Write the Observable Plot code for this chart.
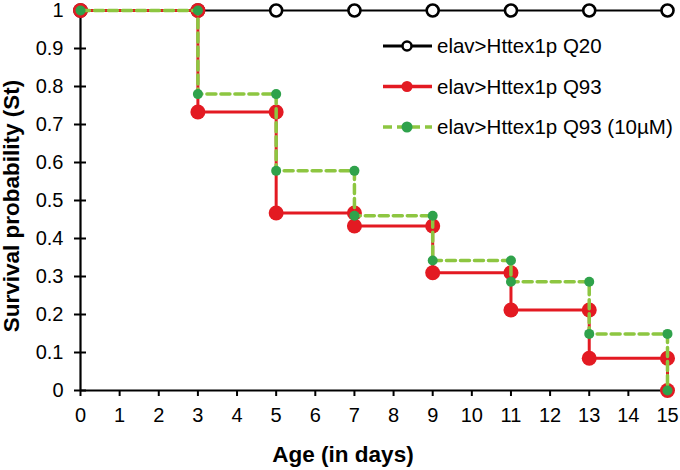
<!DOCTYPE html>
<html><head><meta charset="utf-8">
<script src="https://cdn.jsdelivr.net/npm/d3@7"></script>
<script src="https://cdn.jsdelivr.net/npm/@observablehq/plot@0.6"></script>
<style>
body{margin:0;background:#fff;}
#wrap{position:relative;width:680px;height:470px;font-family:"Liberation Sans",Arial,sans-serif;}
#wrap svg{position:absolute;left:0;top:0;}
</style></head><body><div id="wrap"></div>
<script>
// ---- data ----
const days = [0, 3, 5, 7, 9, 11, 13, 15];
const survQ20 = [1, 1, 1, 1, 1, 1, 1, 1];
const survQ93 = [1, 0.733, 0.467, 0.433, 0.31, 0.212, 0.085, 0];
const survQ93drug = [1, 0.78, 0.578, 0.46, 0.342, 0.286, 0.149, 0];
const seriesNames = ["elav>Httex1p Q20", "elav>Httex1p Q93", "elav>Httex1p Q93 (10µM)"];
const xTicks = [0, 1, 2, 3, 4, 5, 6, 7, 8, 9, 10, 11, 12, 13, 14, 15];
const yTicks = [0, 0.1, 0.2, 0.3, 0.4, 0.5, 0.6, 0.7, 0.8, 0.9, 1];
const yTickLabels = ["0", "0.1", "0.2", "0.3", "0.4", "0.5", "0.6", "0.7", "0.8", "0.9", "1"];
const xTitle = "Age (in days)";
const yTitle = "Survival probability (St)";

const colBlack = "#000000", colRed = "#E31A22", colLine = "#8DC641", colGreen = "#2FA24B";

function curvePts(s) { return days.map((d, i) => ({x: d, y: s[i]})); }
function stepDots(s) {
  const out = [];
  days.forEach((d, i) => {
    if (i > 0) out.push({x: d, y: s[i - 1]});
    out.push({x: d, y: s[i]});
  });
  return out;
}

const q20 = curvePts(survQ20), q93 = curvePts(survQ93), q93d = curvePts(survQ93drug);
const font = "'Liberation Sans', Arial, sans-serif";
const tickFont = 20;

const plot = Plot.plot({
  width: 680, height: 470,
  marginLeft: 80, marginRight: 13, marginTop: 10, marginBottom: 80,
  style: {fontFamily: font, fontSize: tickFont + "px", color: "#000", background: "transparent"},
  x: {domain: [0, 15]},
  y: {domain: [0, 1]},
  marks: [
    Plot.axisY(yTicks, {tickSize: 12, dx: 6, tickFormat: () => "", strokeWidth: 2, label: null}),
    Plot.axisY(yTicks, {tickSize: 0, tickPadding: 17, tickFormat: d => yTickLabels[yTicks.indexOf(d)], label: null, fontSize: tickFont}),
    Plot.axisX(xTicks, {tickSize: 6, tickPadding: 11, strokeWidth: 2, label: null, fontSize: tickFont}),
    Plot.ruleY([0], {strokeWidth: 2.2}),
    Plot.ruleX([0], {strokeWidth: 2.2}),
    Plot.line(q20, {x: "x", y: "y", curve: "step-after", stroke: colBlack, strokeWidth: 2}),
    Plot.dot(q20, {x: "x", y: "y", r: 6, stroke: colBlack, fill: "#fff", strokeWidth: 2.6}),
    Plot.line(q93, {x: "x", y: "y", curve: "step-after", stroke: colRed, strokeWidth: 3}),
    Plot.dot(stepDots(survQ93), {x: "x", y: "y", r: 7.5, fill: colRed}),
    Plot.line(q93d, {x: "x", y: "y", curve: "step-after", stroke: colLine, strokeWidth: 3.5, strokeDasharray: "9,5"}),
    Plot.dot(stepDots(survQ93drug), {x: "x", y: "y", r: 5, fill: colGreen})
  ]
});
document.getElementById("wrap").appendChild(plot);

// ---- overlay: legend and axis titles ----
const ov = d3.select("#wrap").append("svg")
  .attr("width", 680).attr("height", 470)
  .style("pointer-events", "none")
  .style("font-family", font);

const legendRows = [
  {name: seriesNames[0], stroke: colBlack, dash: null, sw: 3, mark: "open"},
  {name: seriesNames[1], stroke: colRed, dash: null, sw: 3.5, mark: "red"},
  {name: seriesNames[2], stroke: colLine, dash: "9,5", sw: 3.5, mark: "green"}
];
const lg = ov.append("g");
legendRows.forEach((row, i) => {
  const y = 46 + i * 40.5;
  lg.append("line").attr("x1", 383).attr("x2", 432).attr("y1", y).attr("y2", y)
    .attr("stroke", row.stroke).attr("stroke-width", row.sw)
    .attr("stroke-dasharray", row.dash);
  if (row.mark === "open") {
    lg.append("circle").attr("cx", 407).attr("cy", y).attr("r", 4.5)
      .attr("fill", "#fff").attr("stroke", colBlack).attr("stroke-width", 2.5);
  } else {
    lg.append("circle").attr("cx", 407).attr("cy", y).attr("r", 5.5)
      .attr("fill", row.mark === "red" ? colRed : colGreen);
  }
  lg.append("text").attr("x", 437).attr("y", y).attr("dy", "0.36em")
    .attr("font-size", 20.5).attr("fill", "#000").text(row.name);
});

ov.append("text").attr("x", 343).attr("y", 462).attr("text-anchor", "middle")
  .attr("font-size", 22.5).attr("font-weight", "bold").text(xTitle);
ov.append("text").attr("transform", "translate(19,206) rotate(-90)")
  .attr("text-anchor", "middle")
  .attr("font-size", 22.5).attr("font-weight", "bold").text(yTitle);
</script>
</body></html>
